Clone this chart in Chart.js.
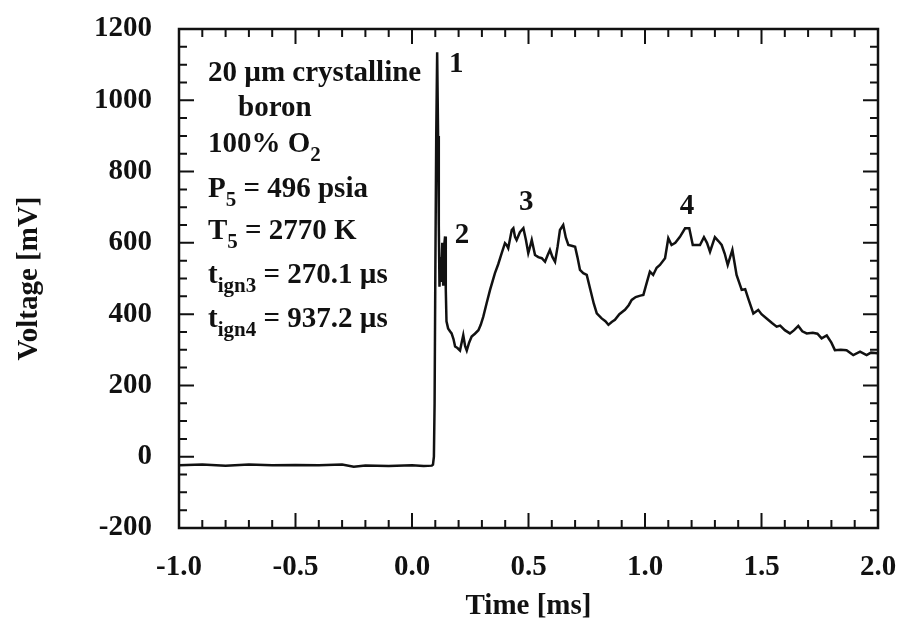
<!DOCTYPE html>
<html>
<head>
<meta charset="utf-8">
<title>Voltage trace - 20 µm crystalline boron</title>
<script src="https://cdn.jsdelivr.net/npm/chart.js@4.4.1/dist/chart.umd.min.js"></script>
<style>
    html, body { margin: 0; padding: 0; background: #fff; }
    #wrap { width: 900px; height: 626px; }
</style>
</head>
<body>
<div id="wrap"><canvas id="trace" width="900" height="626"></canvas></div>
<script>
// time [ms] and voltage [mV]
const timeMs = [
    -1.0, -0.9, -0.8, -0.7, -0.6, -0.5, -0.4, -0.3, -0.25, -0.2, -0.1, 0.0, 0.05, 0.085,
    0.090, 0.094, 0.097, 0.100, 0.104, 0.108, 0.112, 0.115, 0.118, 0.122, 0.125, 0.130,
    0.134, 0.138, 0.142, 0.145, 0.148, 0.155, 0.163, 0.170, 0.178, 0.185, 0.195, 0.206,
    0.213, 0.220, 0.228, 0.235, 0.245, 0.256, 0.270, 0.285, 0.295, 0.306, 0.320, 0.335,
    0.356, 0.370, 0.385, 0.399, 0.406, 0.413, 0.428, 0.435, 0.442, 0.449, 0.463, 0.478,
    0.489, 0.499, 0.507, 0.514, 0.528, 0.542, 0.557, 0.571, 0.582, 0.592, 0.603, 0.614,
    0.625, 0.635, 0.649, 0.660, 0.671, 0.685, 0.700, 0.710, 0.721, 0.735, 0.750, 0.765,
    0.780, 0.793, 0.814, 0.830, 0.843, 0.857, 0.871, 0.890, 0.914, 0.930, 0.943, 0.960,
    0.980, 0.993, 1.007, 1.021, 1.035, 1.050, 1.064, 1.086, 1.100, 1.114, 1.130, 1.150,
    1.172, 1.190, 1.205, 1.220, 1.236, 1.253, 1.266, 1.279, 1.300, 1.315, 1.329, 1.342,
    1.355, 1.375, 1.393, 1.415, 1.430, 1.445, 1.465, 1.486, 1.500, 1.522, 1.545, 1.565,
    1.580, 1.600, 1.622, 1.640, 1.658, 1.675, 1.694, 1.720, 1.740, 1.758, 1.780, 1.800,
    1.815, 1.840, 1.865, 1.880, 1.894, 1.923, 1.951, 1.970, 2.000
];
const voltageMv = [
    -24, -22, -25, -22, -24, -23, -24, -22, -28, -25, -26, -24, -26, -25,
    -22, 0, 150, 500, 900, 1135, 900, 650, 477, 560, 490, 600,
    480, 590, 618, 470, 380, 360, 352, 346, 330, 309, 305, 298,
    320, 341, 310, 298, 320, 337, 345, 355, 370, 393, 430, 468,
    515, 540, 571, 599, 594, 585, 636, 641, 617, 608, 630, 641,
    608, 571, 590, 608, 566, 560, 557, 547, 565, 580, 560, 547,
    590, 636, 650, 615, 594, 592, 589, 560, 524, 515, 510, 470,
    430, 402, 388, 380, 370, 378, 384, 400, 412, 425, 440, 448,
    452, 454, 487, 519, 510, 530, 538, 557, 613, 594, 600, 617,
    641, 641, 594, 594, 594, 616, 600, 575, 616, 605, 594, 570,
    538, 580, 510, 468, 470, 440, 402, 412, 400, 388, 375, 365,
    368, 355, 346, 355, 367, 352, 346, 348, 345, 332, 340, 320,
    299, 300, 299, 292, 285, 295, 285, 292, 290
];

// peak numbers written next to the trace
const peakLabels = ['1', '2', '3', '4'];
const peakTimes = [0.19, 0.215, 0.49, 1.18];
const peakVolts = [1100, 622, 712, 701];

// x and y tick labels
const xTickLabels = [-1.0, -0.5, 0.0, 0.5, 1.0, 1.5, 2.0];
const yTickLabels = [-200, 0, 200, 400, 600, 800, 1000, 1200];

const serif = '"Liberation Serif", "DejaVu Serif", serif';
const mainFont = 'bold 29px ' + serif;
const subFont = 'bold 21px ' + serif;

// writes a line made of [text, isSubscript] pieces
function drawParts(ctx, parts, x, y) {
    let cx = x;
    parts.forEach(p => {
        ctx.font = p[1] ? subFont : mainFont;
        ctx.fillText(p[0], cx, p[1] ? y + 11 : y);
        cx += ctx.measureText(p[0]).width;
    });
}

// closed frame with inward ticks on all four sides
const frameTicks = {
    id: 'frameTicks',
    afterDraw(chart) {
        const ctx = chart.ctx;
        const a = chart.chartArea;
        const xs = chart.scales.x;
        const ys = chart.scales.y;
        ctx.save();
        ctx.strokeStyle = '#111';
        ctx.lineWidth = 2.5;
        ctx.strokeRect(a.left, a.top, a.right - a.left, a.bottom - a.top);
        ctx.lineWidth = 2;
        ctx.beginPath();
        xs.ticks.forEach(t => {
            const px = xs.getPixelForValue(t.value);
            const len = t.label !== '' ? 15 : 8;
            ctx.moveTo(px, a.bottom); ctx.lineTo(px, a.bottom - len);
            ctx.moveTo(px, a.top); ctx.lineTo(px, a.top + len);
        });
        ys.ticks.forEach(t => {
            const py = ys.getPixelForValue(t.value);
            const len = t.label !== '' ? 15 : 8;
            ctx.moveTo(a.left, py); ctx.lineTo(a.left + len, py);
            ctx.moveTo(a.right, py); ctx.lineTo(a.right - len, py);
        });
        ctx.stroke();
        ctx.restore();
    }
};

// run conditions block and peak numbers
const notes = {
    id: 'notes',
    afterDatasetsDraw(chart) {
        const ctx = chart.ctx;
        const a = chart.chartArea;
        const xs = chart.scales.x;
        const ys = chart.scales.y;
        ctx.save();
        ctx.fillStyle = '#111';
        ctx.textBaseline = 'middle';
        ctx.textAlign = 'left';
        const x0 = a.left + 29;
        drawParts(ctx, [['20 µm crystalline', false]], x0, a.top + 45);
        drawParts(ctx, [['boron', false]], x0 + 30, a.top + 80);
        drawParts(ctx, [['100% O', false], ['2', true]], x0, a.top + 116);
        drawParts(ctx, [['P', false], ['5', true], [' = 496 psia', false]], x0, a.top + 161);
        drawParts(ctx, [['T', false], ['5', true], [' = 2770 K', false]], x0, a.top + 203);
        drawParts(ctx, [['t', false], ['ign3', true], [' = 270.1 µs', false]], x0, a.top + 247);
        drawParts(ctx, [['t', false], ['ign4', true], [' = 937.2 µs', false]], x0, a.top + 291);

        ctx.font = mainFont;
        ctx.textAlign = 'center';
        peakLabels.forEach((lab, i) => {
            ctx.fillText(lab, xs.getPixelForValue(peakTimes[i]), ys.getPixelForValue(peakVolts[i]));
        });
        ctx.restore();
    }
};

const near = (v, list) => list.some(l => Math.abs(l - v) < 1e-6);

new Chart(document.getElementById('trace').getContext('2d'), {
    type: 'scatter',
    data: {
        datasets: [{
            data: timeMs.map((t, i) => ({ x: t, y: voltageMv[i] })),
            showLine: true,
            borderColor: '#111',
            borderWidth: 2.5,
            pointRadius: 0,
            tension: 0
        }]
    },
    options: {
        responsive: false,
        animation: false,
        layout: { padding: { left: 0, top: 29, right: 22, bottom: 0 } },
        plugins: { legend: { display: false }, tooltip: { enabled: false } },
        scales: {
            x: {
                type: 'linear',
                min: -1,
                max: 2,
                afterFit: s => {
                    s.height = 98;
                    // labels may hang past the frame, keep the frame where it is
                    s.paddingLeft = 0;
                    s.paddingRight = 0;
                },
                grid: { display: false, drawTicks: false },
                border: { display: false },
                ticks: {
                    stepSize: 0.1,
                    autoSkip: false,
                    maxRotation: 0,
                    padding: 22,
                    color: '#111',
                    font: { family: serif, size: 29, weight: 'bold' },
                    callback: v => near(v, xTickLabels) ? v.toFixed(1) : ''
                },
                title: {
                    display: true,
                    text: 'Time [ms]',
                    color: '#111',
                    font: { family: serif, size: 29, weight: 'bold' },
                    padding: { top: 0, bottom: 2 }
                }
            },
            y: {
                min: -200,
                max: 1200,
                afterFit: s => {
                    s.width = 179;
                    s.paddingTop = 0;
                    s.paddingBottom = 0;
                },
                grid: { display: false, drawTicks: false },
                border: { display: false },
                ticks: {
                    stepSize: 50,
                    autoSkip: false,
                    padding: 27,
                    color: '#111',
                    font: { family: serif, size: 29, weight: 'bold' },
                    callback: v => near(v, yTickLabels) ? String(v) : ''
                },
                title: {
                    display: true,
                    text: 'Voltage [mV]',
                    color: '#111',
                    font: { family: serif, size: 29, weight: 'bold' },
                    padding: { top: 12, bottom: 0 }
                }
            }
        }
    },
    plugins: [frameTicks, notes]
});
</script>
</body>
</html>
